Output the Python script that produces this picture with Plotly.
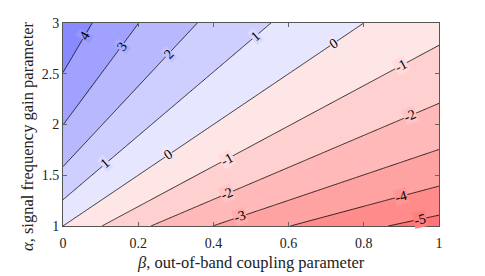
import numpy as np
import plotly.graph_objects as go

beta_vals = np.linspace(0, 1, 201)
alpha_vals = np.linspace(1, 3, 201)
coupling_coeff = 2.5
B, A = np.meshgrid(beta_vals, alpha_vals)
gain_db = 10 * np.log10(A / (1 + coupling_coeff * B))

levels_start, levels_end, level_step = -6, 5, 1
x_ticks = [0, 0.2, 0.4, 0.6, 0.8, 1]
y_ticks = [1, 1.5, 2, 2.5, 3]

# contour labels: (level, beta position along the line)
label_levels = [4, 3, 2, 1, 0, -1, -2, 1, 0, -1, -2, -3, -4, -5]
label_betas = [0.058, 0.156, 0.28, 0.511, 0.72, 0.90, 0.924, 0.112, 0.28, 0.436, 0.436, 0.47, 0.90, 0.95]

band_colors = [
    "rgb(255,116,116)", "rgb(255,139,139)", "rgb(255,162,162)", "rgb(255,185,185)",
    "rgb(255,208,208)", "rgb(255,230,230)",
    "rgb(230,230,255)", "rgb(207,207,255)", "rgb(184,184,255)", "rgb(161,161,255)",
    "rgb(138,138,255)",
]
n = len(band_colors)
colorscale = []
for i, c in enumerate(band_colors):
    colorscale.append([i / n, c])
    colorscale.append([(i + 1) / n, c])

fig = go.Figure(go.Contour(
    x=beta_vals, y=alpha_vals, z=gain_db,
    zmin=levels_start, zmax=levels_end,
    colorscale=colorscale, showscale=False,
    contours=dict(start=levels_start, end=levels_end, size=level_step,
                  coloring="fill", showlabels=False),
    line=dict(color="black", width=0.8),
    hoverinfo="skip",
))

# figure size compensates for the page's default 8px body margin
W, H = 477, 268
l_m, r_m, t_m, b_m = 55, 46, 15, 50
px_per_x = (W - l_m - r_m) / 1.0
px_per_y = (H - t_m - b_m) / 2.0

def mix(c1, c2):
    a = [int(v) for v in c1[4:-1].split(",")]
    b = [int(v) for v in c2[4:-1].split(",")]
    return "rgb(%d,%d,%d)" % tuple((x + y) // 2 for x, y in zip(a, b))

serif = "Liberation Serif"
for lev, bx in zip(label_levels, label_betas):
    ay = 10 ** (lev / 10) * (1 + coupling_coeff * bx)
    slope = coupling_coeff * 10 ** (lev / 10)
    ang = -np.degrees(np.arctan(slope * px_per_y / px_per_x))
    idx = lev - levels_start
    bg = mix(band_colors[idx - 1], band_colors[idx])
    fig.add_annotation(x=bx, y=ay, text=str(lev), showarrow=False, textangle=ang,
                       font=dict(family=serif, size=14, color="black"),
                       bgcolor=bg, borderpad=0)

# axis titles as paper-anchored annotations
fig.add_annotation(xref="paper", yref="paper", x=0.5, y=-37 / (px_per_y * 2),
                   xanchor="center", yanchor="middle", showarrow=False,
                   text="<i>β</i>, out-of-band coupling parameter",
                   font=dict(family=serif, size=16.5, color="#222"))
fig.add_annotation(xref="paper", yref="paper", x=-36 / px_per_x, y=90 / (px_per_y * 2),
                   xanchor="center", yanchor="middle", showarrow=False, textangle=-90,
                   text="<i>α</i>, signal frequency gain parameter",
                   font=dict(family=serif, size=16.5, color="#222"))

fig.update_layout(
    width=W, height=H,
    margin=dict(l=l_m, r=r_m, t=t_m, b=b_m),
    paper_bgcolor="white", plot_bgcolor="white",
    font=dict(family=serif, size=14, color="#222"),
    xaxis=dict(range=[0, 1], tickvals=x_ticks, ticktext=[str(v) for v in x_ticks],
               ticks="inside", ticklen=4, tickcolor="#666", mirror="allticks",
               showline=True, linecolor="#555", linewidth=1, showgrid=False, zeroline=False,
               automargin=False, ticklabelstandoff=4),
    yaxis=dict(range=[1, 3], tickvals=y_ticks, ticktext=[str(v) for v in y_ticks],
               ticks="inside", ticklen=4, tickcolor="#666", mirror="allticks",
               showline=True, linecolor="#555", linewidth=1, showgrid=False, zeroline=False,
               automargin=False, ticklabelstandoff=0),
)

fig.write_html("out.html")
